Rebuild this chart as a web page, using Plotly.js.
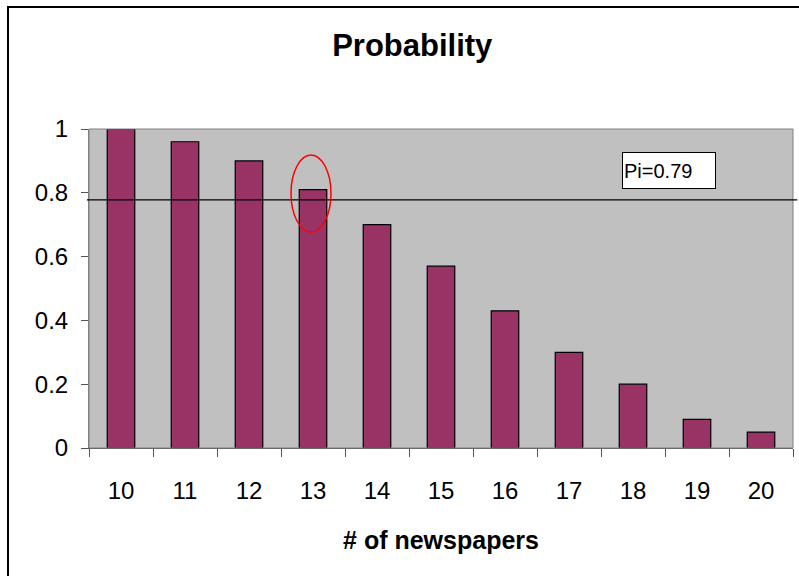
<!DOCTYPE html>
<html><head><meta charset="utf-8">
<script src="https://cdn.plot.ly/plotly-3.0.1.min.js"></script>
<style>html,body{margin:0;padding:0;background:#fff;}#chart{width:799px;height:576px;}</style>
</head><body><div id="chart"></div>
<script>
const categories = ["10","11","12","13","14","15","16","17","18","19","20"];
const probability = [1.0, 0.96, 0.90, 0.81, 0.70, 0.57, 0.43, 0.30, 0.20, 0.09, 0.05];
const yTickVals = [0, 0.2, 0.4, 0.6, 0.8, 1];
const yTickText = ["0", "0.2", "0.4", "0.6", "0.8", "1"];
const piLevel = 0.778;
const piLabel = "Pi=0.79";

const trace = {
  type: "bar", x: categories, y: probability,
  marker: {color: "#993366", line: {color: "#000000", width: 1.2}},
  hoverinfo: "none"
};
const layout = {
  width: 799, height: 576,
  margin: {l: 89, r: 6, t: 129, b: 128},
  paper_bgcolor: "#ffffff", plot_bgcolor: "#c0c0c0",
  font: {family: "Liberation Sans, Arial, sans-serif", color: "#000"},
  bargap: 0.57, showlegend: false,
  title: {text: "<b>Probability</b>", font: {size: 31}, x: 0.516, xref: "container", xanchor: "center", y: 1 - 45/576, yref: "container", yanchor: "middle"},
  xaxis: {type: "category", tickson: "boundaries", ticks: "outside", ticklen: 8, tickcolor: "#555", tickwidth: 1,
    showline: true, linecolor: "#555", linewidth: 1, showgrid: false, zeroline: false,
    tickfont: {size: 24}, ticklabelstandoff: 21,
    title: {text: "<b># of newspapers</b>", font: {size: 25}, standoff: 28}},
  yaxis: {range: [0, 1], tickvals: yTickVals, ticktext: yTickText, ticks: "outside", ticklen: 7, tickcolor: "#555",
    showline: true, linecolor: "#808080", showgrid: false, zeroline: false, tickfont: {size: 24}, ticklabelstandoff: 8},
  shapes: [
    {type: "rect", xref: "paper", yref: "paper", x0: 0, x1: 1, y0: 0, y1: 1, line: {color: "#808080", width: 1}, layer: "above"},
    {type: "line", xref: "paper", yref: "y", x0: -0.003, x1: 1.006, y0: piLevel, y1: piLevel, line: {color: "#000", width: 1.3}},
    {type: "circle", xref: "paper", yref: "paper", x0: (291-89)/704, x1: (331-89)/704, y0: (448-232)/319, y1: (448-155)/319, line: {color: "#ff0000", width: 1.5}},
    {type: "rect", xref: "paper", yref: "paper", x0: (8-89)/704, x1: (820-89)/704, y0: (448-600)/319, y1: (448-7)/319, line: {color: "#000", width: 2}}
  ],
  annotations: [
    {text: piLabel, xref: "paper", yref: "paper", x: (669-89)/704, y: (448-170.6)/319, xanchor: "center", yanchor: "middle",
     showarrow: false, font: {size: 20}, bgcolor: "#fff", bordercolor: "#000", borderwidth: 1, width: 90, height: 33, align: "left", borderpad: 1}
  ]
};
Plotly.newPlot("chart", [trace], layout, {displayModeBar: false, staticPlot: true});
</script></body></html>
